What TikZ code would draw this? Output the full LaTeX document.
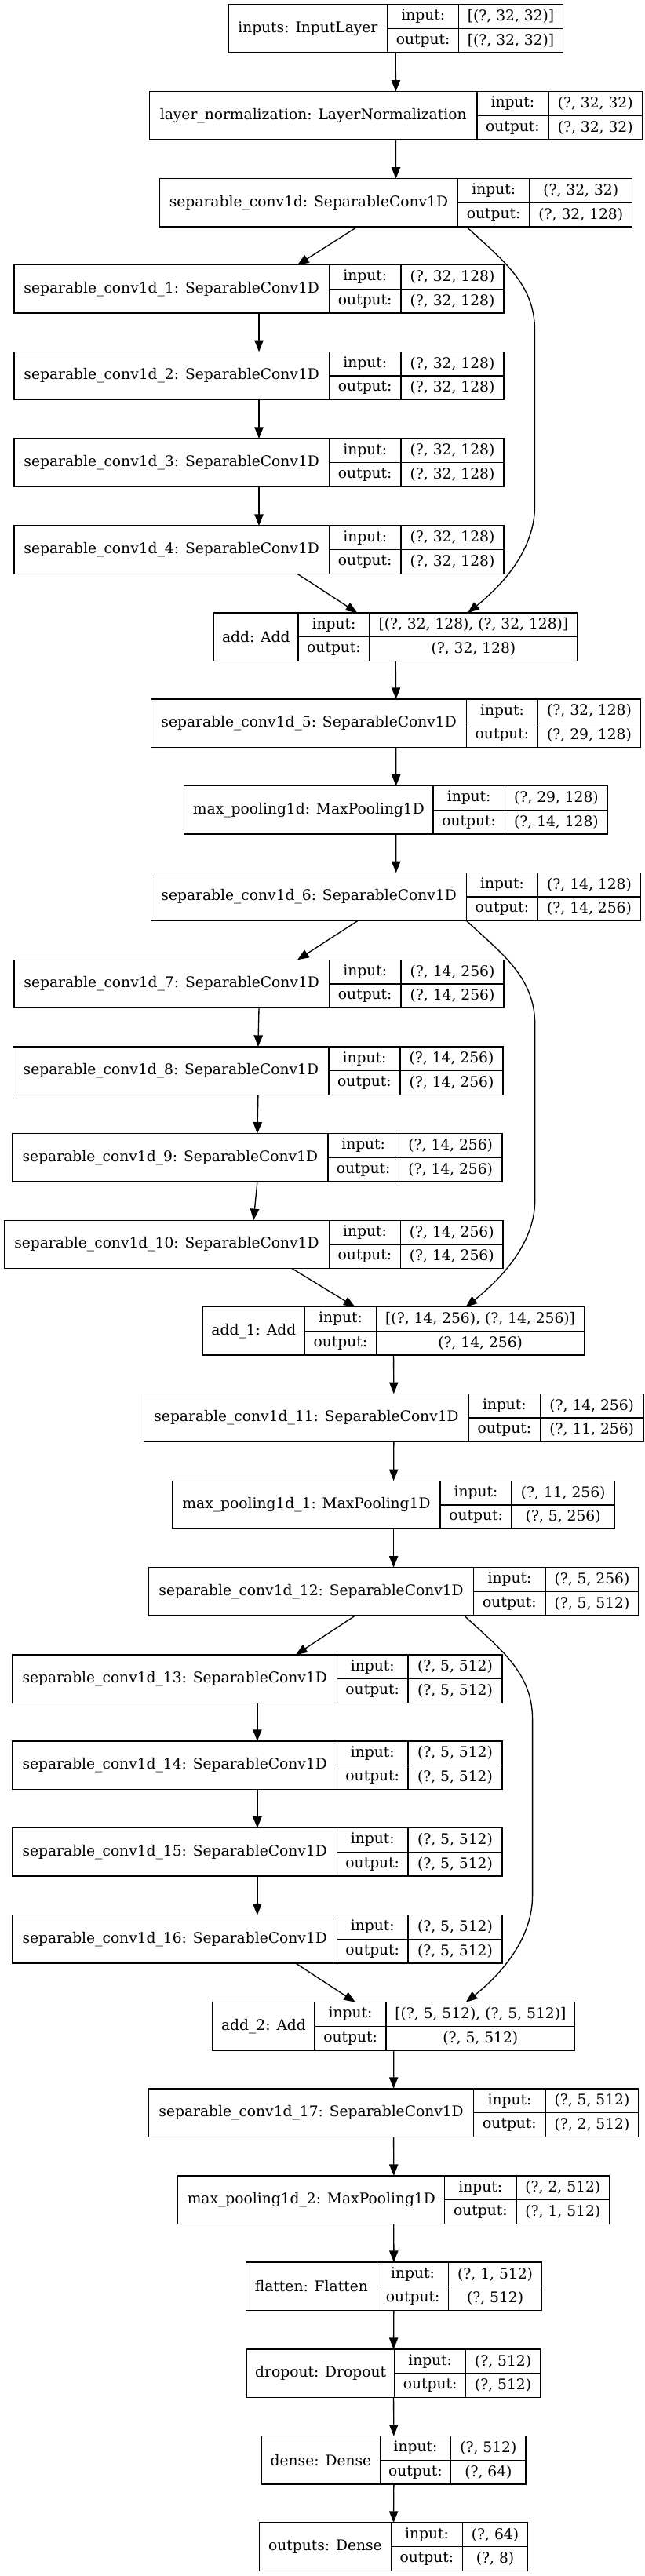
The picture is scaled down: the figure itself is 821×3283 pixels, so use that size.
\documentclass[tikz,border=0pt]{standalone}
\usepackage{fontspec}
\setmainfont{DejaVu Serif}
\usetikzlibrary{arrows.meta,calc}
\tikzset{
%Define standard arrow tip
>={Triangle[length=11pt,width=8.5pt]},
%Define style for the cells of a layer box
name cell/.style={draw, line width=1pt, inner sep=0pt, outer sep=0pt, minimum height=45.98pt},
shape cell/.style={draw, line width=1pt, inner sep=0pt, outer sep=0pt, minimum height=22.99pt},
connection/.style={->, line width=1pt},
}
% layer box: id, left, top, widths of the three columns, name, input shape, output shape
\newcommand{\kerasnode}[9]{%
  \node[name cell, minimum width=#4*0.75pt, anchor=north west] (#1) at (#2,#3) {#7};
  \node[shape cell, minimum width=#5*0.75pt, anchor=north west] (#1-il) at (#1.north east) {input:};
  \node[shape cell, minimum width=#6*0.75pt, anchor=north west] (#1-iv) at (#1-il.north east) {#8};
  \node[shape cell, minimum width=#5*0.75pt, anchor=north west] (#1-ol) at (#1-il.south west) {output:};
  \node[shape cell, minimum width=#6*0.75pt, anchor=north west] (#1-ov) at (#1-ol.north east) {#9};
  \coordinate (#1-top) at ($(#1.north west)!0.5!(#1-iv.north east)$);
  \coordinate (#1-bot) at ($(#1.south west)!0.5!(#1-ov.south east)$);
}
\begin{document}
\begin{tikzpicture}[x=0.75pt, y=-0.75pt, font=\fontsize{14}{17}\selectfont]
    \useasboundingbox (0,0) rectangle (821,3283);

    % first block
    \kerasnode{inputs}{291}{5.7}{202.7}{91}{132.7}{inputs: InputLayer}{[(?, 32, 32)]}{[(?, 32, 32)]}
    \kerasnode{lnorm}{190.5}{116.7}{417.4}{91}{119.5}{layer\_normalization: LayerNormalization}{(?, 32, 32)}{(?, 32, 32)}
    \kerasnode{sep0}{203.2}{227.7}{380.5}{91}{131.1}{separable\_conv1d: SeparableConv1D}{(?, 32, 32)}{(?, 32, 128)}
    \kerasnode{sep1}{17.9}{337.7}{401.6}{91.5}{131.1}{separable\_conv1d\_1: SeparableConv1D}{(?, 32, 128)}{(?, 32, 128)}
    \kerasnode{sep2}{17.9}{448.3}{401.6}{91.5}{131.1}{separable\_conv1d\_2: SeparableConv1D}{(?, 32, 128)}{(?, 32, 128)}
    \kerasnode{sep3}{17.9}{559}{401.6}{91.5}{131.1}{separable\_conv1d\_3: SeparableConv1D}{(?, 32, 128)}{(?, 32, 128)}
    \kerasnode{sep4}{17.9}{670}{401.6}{91.5}{131.1}{separable\_conv1d\_4: SeparableConv1D}{(?, 32, 128)}{(?, 32, 128)}
    \kerasnode{add0}{272.6}{781}{107.4}{91}{264.8}{add: Add}{[(?, 32, 128), (?, 32, 128)]}{(?, 32, 128)}
    \kerasnode{sep5}{192.6}{891}{402.1}{90.6}{131.5}{separable\_conv1d\_5: SeparableConv1D}{(?, 32, 128)}{(?, 29, 128)}
    \kerasnode{pool0}{234.7}{1001.7}{317.4}{91.1}{131.5}{max\_pooling1d: MaxPooling1D}{(?, 29, 128)}{(?, 14, 128)}

    % second block
    \kerasnode{sep6}{192.6}{1112.3}{402.1}{90.6}{131.5}{separable\_conv1d\_6: SeparableConv1D}{(?, 14, 128)}{(?, 14, 256)}
    \kerasnode{sep7}{17.9}{1223.3}{401.6}{91.5}{131.1}{separable\_conv1d\_7: SeparableConv1D}{(?, 14, 256)}{(?, 14, 256)}
    \kerasnode{sep8}{16.8}{1334}{402.2}{91}{131}{separable\_conv1d\_8: SeparableConv1D}{(?, 14, 256)}{(?, 14, 256)}
    \kerasnode{sep9}{15.8}{1444.7}{402.1}{90.5}{131.6}{separable\_conv1d\_9: SeparableConv1D}{(?, 14, 256)}{(?, 14, 256)}
    \kerasnode{sep10}{5.3}{1555.3}{414.2}{91}{130.5}{separable\_conv1d\_10: SeparableConv1D}{(?, 14, 256)}{(?, 14, 256)}
    \kerasnode{add1}{258.4}{1665.7}{130}{91.1}{265.2}{add\_1: Add}{[(?, 14, 256), (?, 14, 256)]}{(?, 14, 256)}
    \kerasnode{sep11}{183.7}{1776.3}{413.7}{91}{131.6}{separable\_conv1d\_11: SeparableConv1D}{(?, 14, 256)}{(?, 11, 256)}
    \kerasnode{pool1}{220}{1887.3}{341}{91.1}{131.1}{max\_pooling1d\_1: MaxPooling1D}{(?, 11, 256)}{(?, 5, 256)}

    % third block
    \kerasnode{sep12}{189.5}{1997.7}{414.2}{91.6}{118.4}{separable\_conv1d\_12: SeparableConv1D}{(?, 5, 256)}{(?, 5, 512)}
    \kerasnode{sep13}{15.8}{2109}{413.7}{90.5}{120}{separable\_conv1d\_13: SeparableConv1D}{(?, 5, 512)}{(?, 5, 512)}
    \kerasnode{sep14}{15.8}{2219}{413.7}{90.5}{120}{separable\_conv1d\_14: SeparableConv1D}{(?, 5, 512)}{(?, 5, 512)}
    \kerasnode{sep15}{15.8}{2329.7}{413.7}{90.5}{120}{separable\_conv1d\_15: SeparableConv1D}{(?, 5, 512)}{(?, 5, 512)}
    \kerasnode{sep16}{15.8}{2440.7}{413.7}{90.5}{120}{separable\_conv1d\_16: SeparableConv1D}{(?, 5, 512)}{(?, 5, 512)}
    \kerasnode{add2}{271}{2551.7}{130}{91.1}{240.5}{add\_2: Add}{[(?, 5, 512), (?, 5, 512)]}{(?, 5, 512)}
    \kerasnode{sep17}{189.5}{2662}{414.2}{91.6}{118.4}{separable\_conv1d\_17: SeparableConv1D}{(?, 5, 512)}{(?, 2, 512)}
    \kerasnode{pool2}{226.8}{2773}{340}{91.1}{118.9}{max\_pooling1d\_2: MaxPooling1D}{(?, 2, 512)}{(?, 1, 512)}

    % head
    \kerasnode{flatten}{313.2}{2883}{167.3}{91.1}{118.9}{flatten: Flatten}{(?, 1, 512)}{(?, 512)}
    \kerasnode{dropout}{314.7}{2994}{187.9}{91.1}{94.7}{dropout: Dropout}{(?, 512)}{(?, 512)}
    \kerasnode{dense}{333.7}{3104.7}{150.5}{90.5}{95.3}{dense: Dense}{(?, 512)}{(?, 64)}
    \kerasnode{outputs}{330.5}{3215}{167.9}{91.1}{83.1}{outputs: Dense}{(?, 64)}{(?, 8)}

    % straight connections
    \foreach \a/\b in {inputs/lnorm, lnorm/sep0, sep1/sep2, sep2/sep3, sep3/sep4,
        add0/sep5, sep5/pool0, pool0/sep6, sep7/sep8, sep8/sep9, sep9/sep10,
        add1/sep11, sep11/pool1, pool1/sep12, sep13/sep14, sep14/sep15, sep15/sep16,
        add2/sep17, sep17/pool2, pool2/flatten, flatten/dropout, dropout/dense, dense/outputs}
        \draw[connection] (\a-bot) -- (\b-top);

    % into and out of the left column
    \foreach \a/\b/\c/\d in {sep0/sep1/sep4/add0, sep6/sep7/sep10/add1, sep12/sep13/sep16/add2} {
        \draw[connection] ($(\a-bot)+(-49,0)$) -- ($(\b-top)+(49,0)$);
        \draw[connection] ($(\c-bot)+(49,0)$) -- ($(\d-top)+(-49,0)$);
    }

    % skip connections
    \foreach \a/\b in {sep0/add0, sep6/add1, sep12/add2} {
        \coordinate (s) at ($(\a-bot)+(90,0)$);
        \coordinate (e) at ($(\b-top)+(92,0)$);
        \coordinate (p) at ($(s)+(87,132)$);
        \coordinate (q) at ($(e)+(0,-136)$);
        \draw[connection] (s) .. controls +(45,42) and +(0,-60) .. (p)
            -- (p |- q) .. controls +(0,55) and +(45,-36) .. (e);
    }
\end{tikzpicture}
\end{document}
